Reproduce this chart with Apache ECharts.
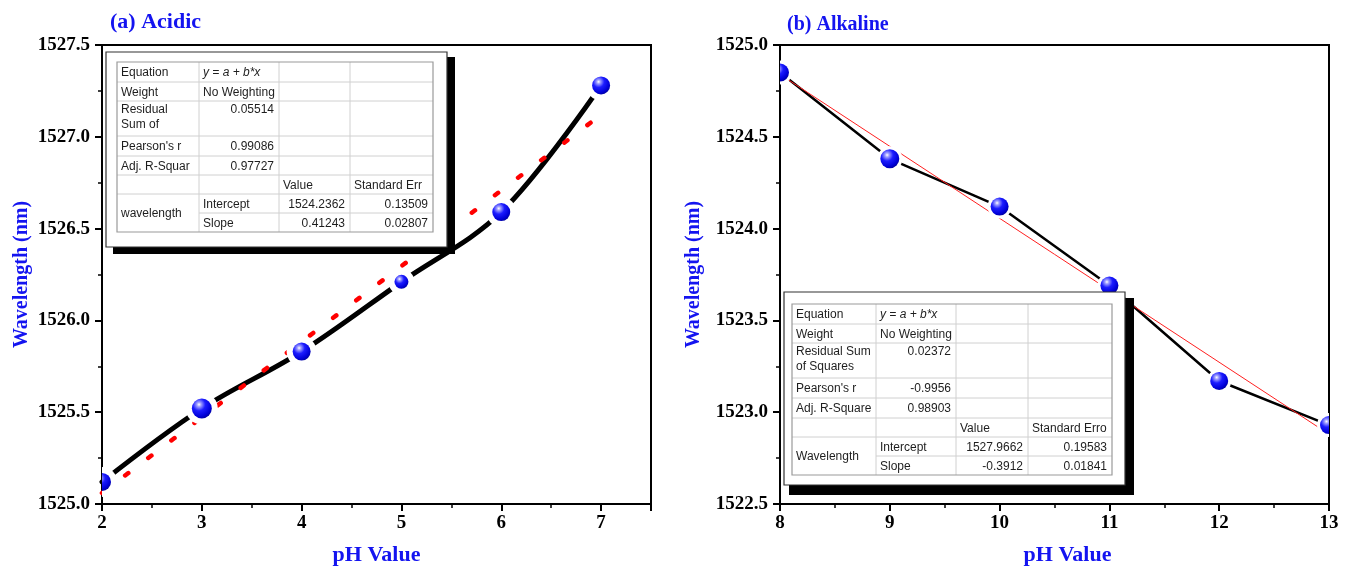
<!DOCTYPE html>
<html>
<head>
<meta charset="utf-8">
<script src="https://cdn.jsdelivr.net/npm/echarts@6/dist/echarts.min.js"></script>
<style>
html,body{margin:0;padding:0;background:#fff;}
#chart{width:1349px;height:571px;}
</style>
</head>
<body>
<div id="chart"></div>
<script>
// ---------- data ----------
const phAcidic = [2, 3, 4, 5, 6, 7];
const wlAcidic = [1525.12, 1525.52, 1525.83, 1526.21, 1526.59, 1527.28];
const fitAcidicX = [2, 7];
const fitAcidicY = [1525.06, 1527.12];

const phAlkaline = [8, 9, 10, 11, 12, 13];
const wlAlkaline = [1524.85, 1524.38, 1524.12, 1523.69, 1523.17, 1522.93];
const fitAlkalineX = [8, 13];
const fitAlkalineY = [1524.84, 1522.88];

const titleA = '(a) Acidic';
const titleB = '(b) Alkaline';
const xName = 'pH Value';
const yName = 'Wavelength (nm)';

const tableA = [
  ['Equation', 'y = a + b*x', '', ''],
  ['Weight', 'No Weighting', '', ''],
  ['Residual\nSum of', '0.05514', '', ''],
  ["Pearson's r", '0.99086', '', ''],
  ['Adj. R-Squar', '0.97727', '', ''],
  ['', '', 'Value', 'Standard Err'],
  ['wavelength', 'Intercept', '1524.2362', '0.13509'],
  ['', 'Slope', '0.41243', '0.02807']
];
const tableB = [
  ['Equation', 'y = a + b*x', '', ''],
  ['Weight', 'No Weighting', '', ''],
  ['Residual Sum\nof Squares', '0.02372', '', ''],
  ["Pearson's r", '-0.9956', '', ''],
  ['Adj. R-Square', '0.98903', '', ''],
  ['', '', 'Value', 'Standard Erro'],
  ['Wavelength', 'Intercept', '1527.9662', '0.19583'],
  ['', 'Slope', '-0.3912', '0.01841']
];

// ---------- style ----------
const BLUE = '#1414f0';
const SERIF = '"Liberation Serif","Times New Roman",serif';
const SANS = '"Liberation Sans",Arial,sans-serif';
const markerRadiusA = [9, 10, 9, 7, 9, 9];
const markerRadiusB = [9, 9.5, 9, 9, 9, 9];

const sphereFill = {
  type: 'radial', x: 0.36, y: 0.3, r: 0.75,
  colorStops: [
    {offset: 0, color: '#ffffff'},
    {offset: 0.14, color: '#a0a0ff'},
    {offset: 0.42, color: '#1c1cff'},
    {offset: 0.8, color: '#0000d8'},
    {offset: 1, color: '#00009a'}
  ]
};

function pairs(xs, ys) { return xs.map((x, i) => [x, ys[i]]); }

function markerSeries(idx, xs, ys, radii, gap) {
  return {
    type: 'custom', xAxisIndex: idx, yAxisIndex: idx, clip: true, z: 5,
    data: pairs(xs, ys),
    renderItem: function (params, api) {
      const p = api.coord([api.value(0), api.value(1)]);
      const r = radii[params.dataIndex];
      return {
        type: 'group',
        children: [
          {type: 'circle', shape: {cx: p[0], cy: p[1], r: r + gap}, style: {fill: '#ffffff'}},
          {type: 'circle', shape: {cx: p[0], cy: p[1], r: r}, style: {fill: sphereFill}}
        ]
      };
    }
  };
}

function xAxisCfg(idx, min, max) {
  return {
    type: 'value', gridIndex: idx, min: min, max: max, interval: 1,
    axisLine: {show: true, onZero: false, lineStyle: {color: '#000', width: 2}},
    axisTick: {show: true, length: 7, lineStyle: {color: '#000', width: 2}},
    minorTick: {show: true, splitNumber: 2, length: 4, lineStyle: {color: '#000', width: 1.5}},
    splitLine: {show: false},
    axisLabel: {color: '#000', fontFamily: SERIF, fontWeight: 'bold', fontSize: 19, margin: 10,
      showMaxLabel: idx === 1,
      formatter: v => (Number.isInteger(v) ? String(v) : '')},
    name: xName, nameLocation: 'middle', nameGap: 40,
    nameTextStyle: {color: BLUE, fontFamily: SERIF, fontWeight: 'bold', fontSize: 22,
      padding: idx === 1 ? [0, 0, 0, 26] : 0}
  };
}
function yAxisCfg(idx, min, max, gap) {
  return {
    type: 'value', gridIndex: idx, min: min, max: max, interval: 0.5,
    axisLine: {show: true, onZero: false, lineStyle: {color: '#000', width: 2}},
    axisTick: {show: true, length: 7, lineStyle: {color: '#000', width: 2}},
    minorTick: {show: true, splitNumber: 2, length: 4, lineStyle: {color: '#000', width: 1.5}},
    splitLine: {show: false},
    axisLabel: {color: '#000', fontFamily: SERIF, fontWeight: 'bold', fontSize: 19, margin: 12,
      formatter: v => v.toFixed(1)},
    name: yName, nameLocation: 'middle', nameGap: gap,
    nameTextStyle: {color: BLUE, fontFamily: SERIF, fontWeight: 'bold', fontSize: 20}
  };
}

function buildTable(rows, cols, rys, box, shadow) {
  const els = [];
  let z = 100;
  els.push({type: 'rect', z: z, shape: shadow, style: {fill: '#000'}});
  els.push({type: 'rect', z: z + 1, shape: box, style: {fill: '#fff', stroke: '#333', lineWidth: 1.2}});
  const x0 = cols[0], x1 = cols[cols.length - 1], y0 = rys[0], y1 = rys[rys.length - 1];
  const n = rows.length;
  for (let i = 1; i < n; i++) {
    const sx = (i === n - 1) ? cols[1] : x0;
    els.push({type: 'line', z: z + 2, shape: {x1: sx, y1: rys[i], x2: x1, y2: rys[i]},
      style: {stroke: '#d0d0d0', lineWidth: 1}});
  }
  for (let j = 1; j < cols.length - 1; j++) {
    els.push({type: 'line', z: z + 2, shape: {x1: cols[j], y1: y0, x2: cols[j], y2: y1},
      style: {stroke: '#d0d0d0', lineWidth: 1}});
  }
  els.push({type: 'rect', z: z + 3, shape: {x: x0, y: y0, width: x1 - x0, height: y1 - y0},
    style: {fill: 'none', stroke: '#9a9a9a', lineWidth: 1.2}});
  rows.forEach((row, i) => {
    row.forEach((txt, j) => {
      if (!txt) return;
      const numeric = /^-?[\d.]+$/.test(txt);
      let top = rys[i], bot = rys[i + 1];
      if (j === 0 && i === n - 2) bot = rys[n];
      const tall = (bot - top) > 28 && i !== n - 2;
      const style = {
        text: txt,
        font: (i === 0 && j === 1 ? 'italic ' : '') + '12px ' + SANS,
        fill: '#1e1e1e',
        align: numeric ? 'right' : 'left',
        verticalAlign: tall ? 'top' : 'middle',
        lineHeight: 15
      };
      els.push({
        type: 'text', z: z + 4,
        x: numeric ? cols[j + 1] - 5 : cols[j] + 4,
        y: tall ? top + 1 : (top + bot) / 2 + 1,
        style: style
      });
    });
  });
  return els;
}

const chart = echarts.init(document.getElementById('chart'), null, {renderer: 'canvas'});

const option = {
  backgroundColor: '#ffffff',
  animation: false,
  title: [
    {text: titleA, left: 105, top: 6,
      textStyle: {color: BLUE, fontFamily: SERIF, fontWeight: 'bold', fontSize: 22}},
    {text: titleB, left: 782, top: 10,
      textStyle: {color: BLUE, fontFamily: SERIF, fontWeight: 'bold', fontSize: 20}}
  ],
  grid: [
    {left: 102, top: 45, width: 549, height: 460, show: true, borderColor: '#000', borderWidth: 2, backgroundColor: 'transparent'},
    {left: 780, top: 45, width: 549, height: 460, show: true, borderColor: '#000', borderWidth: 2, backgroundColor: 'transparent'}
  ],
  xAxis: [xAxisCfg(0, 2, 7.5), xAxisCfg(1, 8, 13)],
  yAxis: [yAxisCfg(0, 1525, 1527.5, 70), yAxisCfg(1, 1522.5, 1525, 76)],
  series: [
    {
      type: 'line', xAxisIndex: 0, yAxisIndex: 0, z: 2,
      data: pairs(phAcidic, wlAcidic), smooth: 0.35, showSymbol: false, symbol: 'none',
      lineStyle: {color: '#000', width: 5, cap: 'round'}
    },
    markerSeries(0, phAcidic, wlAcidic, markerRadiusA, 6),
    {
      type: 'line', xAxisIndex: 0, yAxisIndex: 0, z: 4,
      data: pairs(fitAcidicX, fitAcidicY), showSymbol: false, symbol: 'none',
      lineStyle: {color: '#ff0000', width: 4.5, type: [4, 25], cap: 'round'}
    },
    {
      type: 'line', xAxisIndex: 1, yAxisIndex: 1, z: 2,
      data: pairs(phAlkaline, wlAlkaline), showSymbol: false, symbol: 'none',
      lineStyle: {color: '#000', width: 2.5}
    },
    markerSeries(1, phAlkaline, wlAlkaline, markerRadiusB, 3),
    {
      type: 'line', xAxisIndex: 1, yAxisIndex: 1, z: 4,
      data: pairs(fitAlkalineX, fitAlkalineY), showSymbol: false, symbol: 'none',
      lineStyle: {color: '#ff2020', width: 1}
    }
  ],
  graphic: [].concat(
    buildTable(tableA, [117, 199, 279, 350, 433], [62, 82, 101, 136, 156, 175, 194, 213, 232],
      {x: 106, y: 52, width: 341, height: 195}, {x: 113, y: 57, width: 342, height: 197}),
    buildTable(tableB, [792, 876, 956, 1028, 1112], [304, 324, 343, 378, 398, 418, 437, 456, 475],
      {x: 784, y: 292, width: 341, height: 193}, {x: 789, y: 298, width: 345, height: 197})
  )
};
chart.setOption(option);
</script>
</body>
</html>
